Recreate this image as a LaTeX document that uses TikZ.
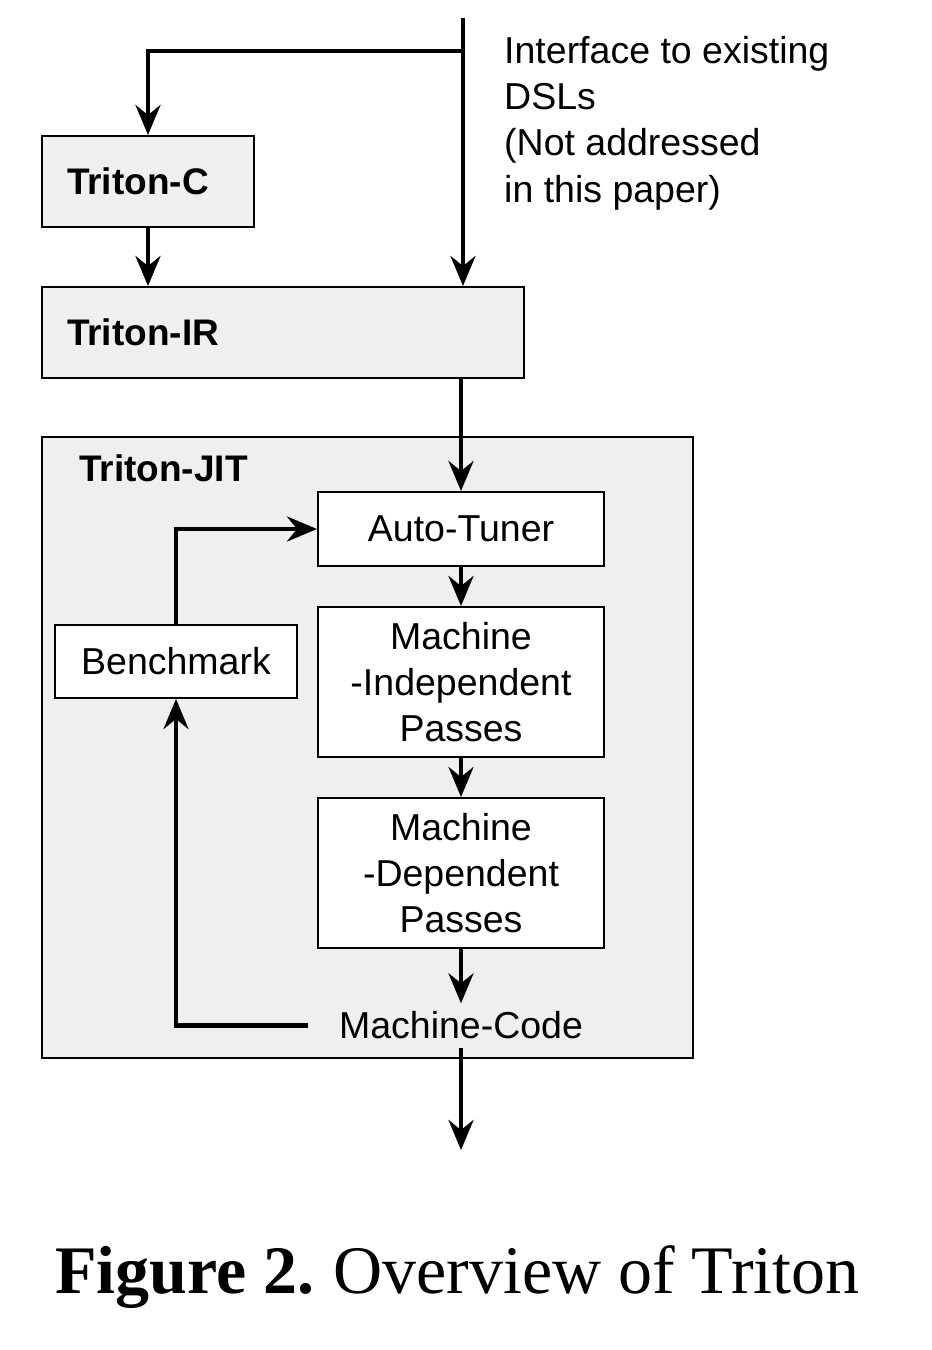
\documentclass[tikz,border=0pt]{standalone}
\usepackage{fontspec}
\setmainfont{Liberation Serif}
\newfontfamily\arial{Liberation Sans}
\usetikzlibrary{arrows.meta}
\definecolor{boxgray}{RGB}{239,239,239}
\begin{document}
\begin{tikzpicture}[x=1pt,y=-1pt,
  txt/.style={font=\arial\fontsize{37.5}{46}\selectfont},
  btxt/.style={font=\arial\bfseries\fontsize{37}{46}\selectfont},
  box/.style={draw=black,line width=2pt,fill=white,inner sep=0pt,align=center,txt},
  graybox/.style={box,fill=boxgray},
  conn/.style={line width=4.5pt,-{Stealth[length=30pt,width=25pt,inset=10pt]}},
  plainline/.style={line width=4.5pt}]
\useasboundingbox (0,0) rectangle (932,1350);
% containers and boxes
\node[graybox, minimum width=651pt, minimum height=621pt] (jit) at (367.5,747.5) {};
\node[btxt, anchor=base west, inner sep=0pt] (jitlabel) at (79,481) {Triton-JIT};
\node[graybox, btxt, minimum width=212pt, minimum height=91pt, text width=162pt, align=left] (tc) at (148,181.5) {Triton-C};
\node[graybox, btxt, minimum width=482pt, minimum height=91pt, text width=432pt, align=left] (tir) at (283,332.5) {Triton-IR};
\node[box, minimum width=286pt, minimum height=74pt] (at) at (461,529) {Auto-Tuner};
\node[box, minimum width=286pt, minimum height=150pt] (mi) at (461,682) {Machine\\-Independent\\Passes};
\node[box, minimum width=286pt, minimum height=150pt] (md) at (461,873) {Machine\\-Dependent\\Passes};
\node[box, minimum width=242pt, minimum height=73pt] (bm) at (176,661.5) {Benchmark};
\node[txt, inner xsep=31pt, inner ysep=0pt, minimum height=44pt] (mc) at (461,1025.5) {Machine-Code};
\node[anchor=north west, inner sep=0pt, align=left, font=\arial\fontsize{37.5}{46.3}\selectfont] (iface) at (504,36) {Interface to existing\\DSLs\\(Not addressed\\in this paper)};
% free ends
\coordinate (src) at (463,18);
\coordinate (split) at (463,51);
\coordinate (out) at (461,1150);
% connectors
\draw[conn] (src) -- (src |- tir.north);
\draw[conn] (split) -| (tc.north);
\draw[conn] (tc.south) -- (tc.south |- tir.north);
\draw[conn] (tir.south -| at.north) -- (at.north);
\draw[conn] (at.south) -- (mi.north);
\draw[conn] (mi.south) -- (md.north);
\draw[conn] (md.south) -- (mc.north);
\draw[conn] (mc.south) -- (out);
\draw[conn] (mc.west) -| (bm.south);
\draw[conn] (bm.north) |- (at.west);
% caption
\node[anchor=base west, inner sep=0pt, font=\fontsize{68}{80}\selectfont] (cap) at (55,1293) {\textbf{Figure 2.}\hspace{-4pt} Overview of Triton};
\end{tikzpicture}
\end{document}
